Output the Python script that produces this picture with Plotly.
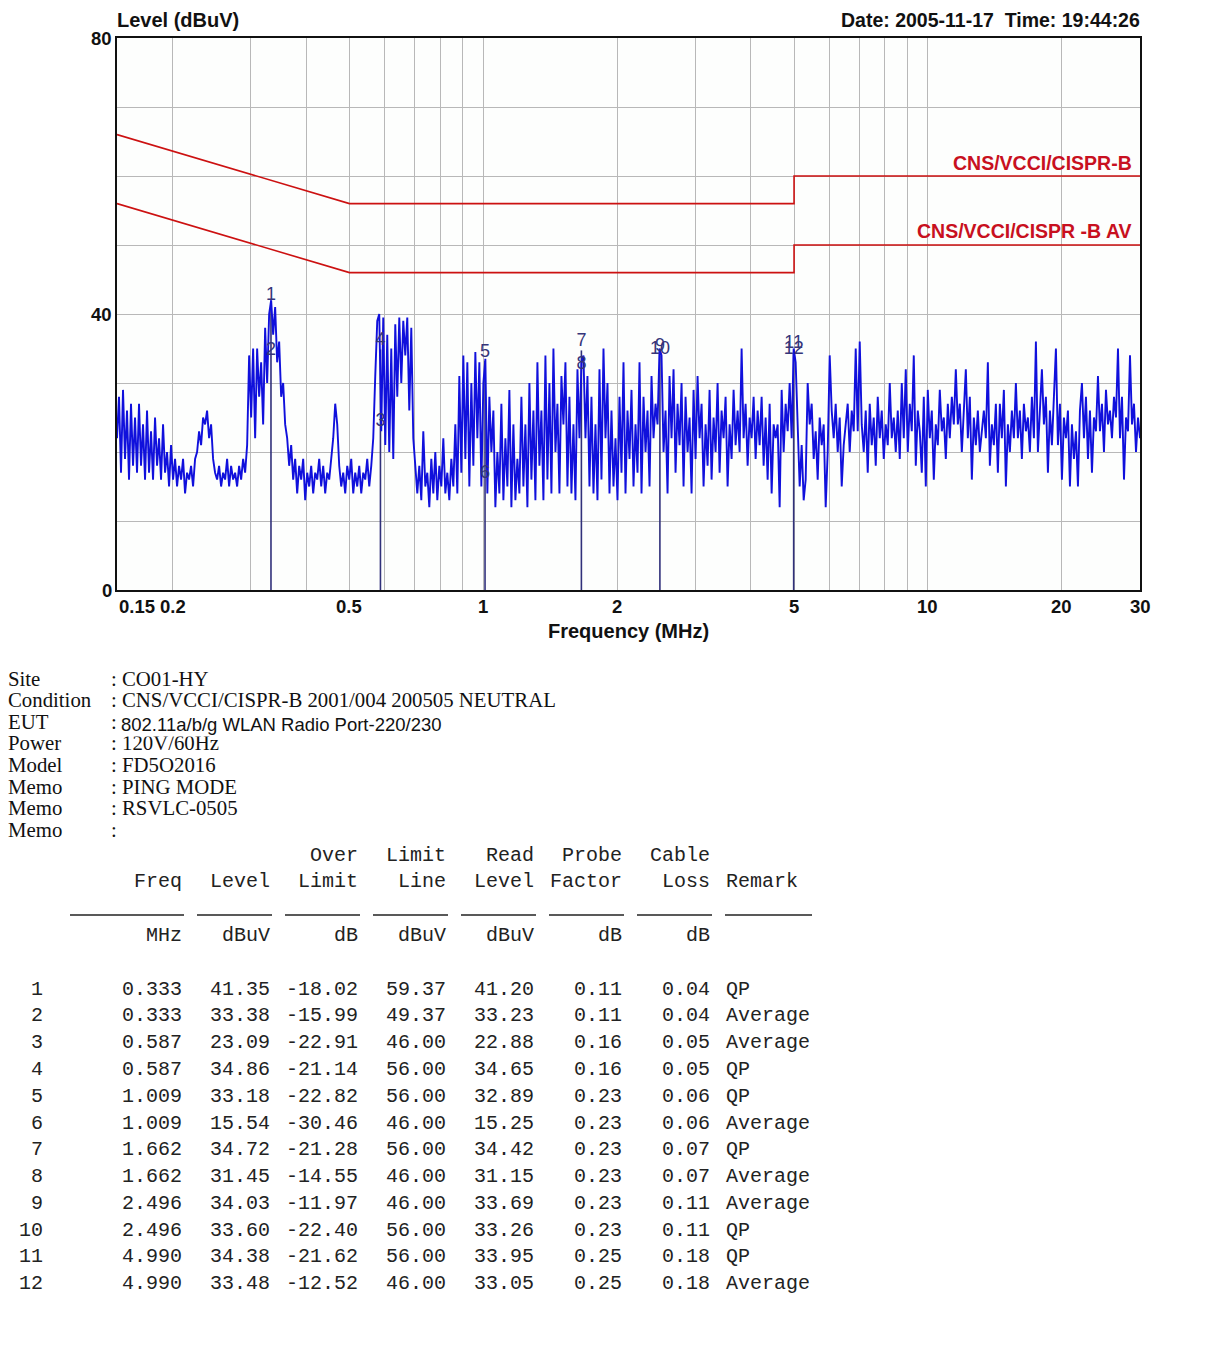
import numpy as np
import plotly.graph_objects as go

# page body has an 8px margin, so the figure is 8px smaller and everything is shifted by 8
OFF = 8
W, H = 1216 - OFF, 1353 - OFF
L, R, T, B = 117, 1140, 38, 590   # plot area in page pixels

# ---------------- data ----------------
freq_start, freq_stop = 0.15, 30.0
levels = [
    22, 28, 17, 29, 19, 26, 16, 27, 18, 25,
    17, 27, 18, 24, 16, 26, 17, 23, 16, 25,
    18, 22, 16, 24, 17, 20, 15, 21, 16, 19,
    15, 18, 16, 19, 14, 17, 16, 18, 15, 19,
    20, 23, 21, 25, 24, 26, 22, 24, 19, 17,
    16, 18, 15, 17, 16, 19, 15, 18, 16, 17,
    15, 18, 16, 19, 17, 21, 34, 25, 35, 22,
    35, 28, 33, 24, 38, 30, 40, 42, 37, 41,
    33, 36, 28, 30, 24, 22, 18, 21, 16, 19,
    14, 18, 16, 19, 13, 17, 15, 18, 14, 17,
    16, 19, 15, 18, 14, 17, 16, 19, 22, 27,
    24, 18, 15, 17, 14, 18, 16, 19, 14, 17,
    15, 18, 14, 17, 16, 19, 15, 18, 22, 31,
    39, 40, 23, 39.5, 21, 37, 20, 35, 19, 38.5,
    28, 39.5, 30, 39, 34, 39.5, 26, 38, 22, 18,
    14, 18, 13, 23, 15, 17, 12, 19, 14, 20,
    13, 18, 15, 22, 14, 17, 13, 19, 15, 24,
    14, 31, 17, 34, 19, 33, 15, 30, 18, 34.5,
    22, 33, 15, 30, 33.5, 14, 28, 20, 26, 12,
    20, 14, 27, 13, 22, 15, 29, 12, 24, 13,
    19, 14, 28, 15, 24, 12, 30, 16, 26, 13,
    33, 18, 26, 13, 34, 16, 30, 14, 35, 20,
    27, 14, 31, 24, 33, 15, 28, 14, 24, 13,
    32, 22, 33, 34, 22, 31, 15, 28, 14, 24,
    13, 32, 16, 35, 22, 30, 14, 26, 15, 22,
    13, 28, 17, 33, 14, 26, 19, 29, 15, 24,
    17, 33, 14, 28, 20, 26, 15, 31, 22, 27,
    24, 35, 34, 20, 26, 14, 31, 22, 32, 17,
    27, 21, 30, 15, 28, 20, 25, 14, 29, 19,
    31, 22, 27, 15, 24, 18, 29, 16, 25, 20,
    30, 17, 26, 22, 28, 15, 24, 19, 29, 21,
    26, 20, 35, 22, 27, 18, 25, 22, 28, 19,
    26, 21, 28, 18, 25, 16, 27, 14, 24, 22,
    24, 12, 29, 20, 27, 23, 30, 22, 35, 33,
    24, 15, 21, 13, 16, 30, 24, 27, 19, 23,
    16, 25, 21, 24, 12, 20, 34, 26, 22, 27,
    20, 25, 15, 21, 24, 27, 20, 26, 23, 35,
    23, 36, 24, 20, 26, 17, 27, 21, 25, 18,
    28, 22, 26, 19, 24, 21, 30, 22, 25, 20,
    26, 19, 30, 22, 32, 20, 27, 23, 34, 18,
    26, 23, 17, 28, 15, 29, 22, 26, 16, 24,
    21, 29, 23, 25, 19, 27, 22, 28, 24, 32,
    24, 27, 20, 26, 32, 22, 28, 16, 25, 21,
    26, 20, 23, 26, 22, 33, 18, 24, 21, 27,
    17, 27, 22, 29, 15, 24, 20, 26, 22, 30,
    22, 26, 19, 27, 23, 25, 20, 28, 22, 36,
    20, 26, 32, 24, 28, 17, 26, 21, 27, 35,
    21, 27, 16, 25, 22, 26, 15, 24, 19, 23,
    15, 26, 30, 22, 28, 19, 26, 17, 25, 23,
    31, 23, 27, 20, 29, 24, 26, 22, 28, 25,
    35, 22, 28, 16, 25, 23, 34, 24, 27, 20,
    25, 22,
]
freqs = np.geomspace(freq_start, freq_stop, len(levels))

qp_limit_freq = [0.15, 0.5, 5, 5, 30]
qp_limit_level = [66, 56, 56, 60, 60]
av_limit_freq = [0.15, 0.5, 5, 5, 30]
av_limit_level = [56, 46, 46, 50, 50]

mk_no = [1, 2, 3, 4, 5, 6, 7, 8, 9, 10, 11, 12]
mk_freq = [0.333, 0.333, 0.587, 0.587, 1.009, 1.009, 1.662, 1.662, 2.496, 2.496, 4.990, 4.990]
mk_level = [41.35, 33.38, 23.09, 34.86, 33.18, 15.54, 34.72, 31.45, 34.03, 33.60, 34.38, 33.48]
mk_over = [-18.02, -15.99, -22.91, -21.14, -22.82, -30.46, -21.28, -14.55, -11.97, -22.40, -21.62, -12.52]
mk_limit = [59.37, 49.37, 46.00, 56.00, 56.00, 46.00, 56.00, 46.00, 46.00, 56.00, 56.00, 46.00]
mk_read = [41.20, 33.23, 22.88, 34.65, 32.89, 15.25, 34.42, 31.15, 33.69, 33.26, 33.95, 33.05]
mk_probe = [0.11, 0.11, 0.16, 0.16, 0.23, 0.23, 0.23, 0.23, 0.23, 0.23, 0.25, 0.25]
mk_cable = [0.04, 0.04, 0.05, 0.05, 0.06, 0.06, 0.07, 0.07, 0.11, 0.11, 0.18, 0.18]
mk_remark = ["QP", "Average", "Average", "QP", "QP", "Average", "QP", "Average",
             "Average", "QP", "QP", "Average"]

x_tick_vals = [0.15, 0.2, 0.5, 1, 2, 5, 10, 20, 30]
x_tick_text = ["0.15", "0.2", "0.5", "1", "2", "5", "10", "20", "30"]
x_grid_vals = [0.2, 0.3, 0.4, 0.5, 0.6, 0.7, 0.8, 0.9, 1, 2, 3, 4, 5, 6, 7, 8, 9, 10, 20]
y_tick_vals = [0, 40, 80]

info_labels = ["Site", "Condition", "EUT", "Power", "Model", "Memo", "Memo", "Memo"]
info_values = [": CO01-HY", ": CNS/VCCI/CISPR-B 2001/004 200505 NEUTRAL", ":",
               ": 120V/60Hz", ": FD5O2016", ": PING MODE", ": RSVLC-0505", ":"]
eut_text = "802.11a/b/g WLAN Radio Port-220/230"

# ---------------- helpers (page pixels -> paper fraction) ----------------
def px(x):
    return (x - L) / (R - L)

def py(y):
    return (B - y) / (B - T)

fig = go.Figure()

# marker drop lines (from 0 up to the highest reading at each marker frequency)
drop_x, drop_y = [], []
for f in sorted(set(mk_freq)):
    top = max(lv for ff, lv in zip(mk_freq, mk_level) if ff == f)
    drop_x += [f, f, None]
    drop_y += [0, top, None]
fig.add_trace(go.Scatter(x=drop_x, y=drop_y, mode="lines",
                         line=dict(color="#30307a", width=1.6),
                         hoverinfo="skip", showlegend=False))

# spectrum trace
fig.add_trace(go.Scatter(x=freqs, y=levels, mode="lines",
                         line=dict(color="#1010dc", width=1.9),
                         showlegend=False))

# limit lines
fig.add_trace(go.Scatter(x=qp_limit_freq, y=qp_limit_level, mode="lines",
                         line=dict(color="#cc1111", width=1.6), showlegend=False))
fig.add_trace(go.Scatter(x=av_limit_freq, y=av_limit_level, mode="lines",
                         line=dict(color="#cc1111", width=1.6), showlegend=False))

# marker labels
fig.add_trace(go.Scatter(x=mk_freq, y=mk_level, mode="text",
                         text=[str(n) for n in mk_no], textposition="top center",
                         textfont=dict(family="Liberation Sans", size=18, color="#35357a"),
                         showlegend=False))

ann = []
BOLD = "Liberation Sans"

# axis tick labels
for v, t in zip(x_tick_vals, x_tick_text):
    ann.append(dict(x=np.log10(v), y=0, xref="x", yref="paper", text="<b>%s</b>" % t,
                    showarrow=False, xanchor="left" if v == 0.15 else "center",
                    yanchor="top", yshift=-4,
                    font=dict(family=BOLD, size=18.5, color="#111")))
for v in y_tick_vals:
    ann.append(dict(x=0, y=v, xref="paper", yref="y", text="<b>%d</b>" % v,
                    showarrow=False, xanchor="right", yanchor="middle", xshift=-3,
                    font=dict(family=BOLD, size=18.5, color="#111")))

def text_at(x, y, text, xanchor, size, color="#111", family=BOLD):
    ann.append(dict(x=px(x), y=py(y), xref="paper", yref="paper", xanchor=xanchor,
                    yanchor="middle", text=text, showarrow=False,
                    font=dict(family=family, size=size, color=color)))

text_at(628, 631, "<b>Frequency (MHz)</b>", "center", 20)
text_at(115, 20, "<b>Level (dBuV)</b>", "left", 20)
text_at(1142, 20, "<b>Date: 2005-11-17  Time: 19:44:26</b>", "right", 19.5)
text_at(1134, 163, "<b>CNS/VCCI/CISPR-B</b>", "right", 19.5, "#c81020")
text_at(1134, 231, "<b>CNS/VCCI/CISPR -B AV</b>", "right", 19.5, "#c81020")

# info block
SERIF = "Liberation Serif"
for k, (lab, val) in enumerate(zip(info_labels, info_values)):
    yy = 678 + 21.6 * k
    text_at(6, yy, lab, "left", 20.8, "#111", SERIF)
    text_at(109, yy, val, "left", 20.8, "#111", SERIF)
ann.append(dict(x=px(120), y=py(723.5), xref="paper", yref="paper", xanchor="left",
                yanchor="middle", text=eut_text, showarrow=False, align="left",
                width=480, height=24, bgcolor="white", borderpad=0,
                font=dict(family="Liberation Sans", size=18.5, color="#111")))

# table
MONO = "Liberation Mono"
col_right = [45, 184, 272, 360, 448, 536, 624, 712]
remark_left = 724

def cell(x, y, text, anchor="right"):
    text_at(x, y, text, anchor, 20, "#222", MONO)

hdr1 = [None, None, None, "Over", "Limit", "Read", "Probe", "Cable"]
hdr2 = [None, "Freq", "Level", "Limit", "Line", "Level", "Factor", "Loss"]
units = [None, "MHz", "dBuV", "dB", "dBuV", "dBuV", "dB", "dB"]
for c, t in enumerate(hdr1):
    if t:
        cell(col_right[c], 855, t)
for c, t in enumerate(hdr2):
    if t:
        cell(col_right[c], 881, t)
cell(remark_left, 881, "Remark", "left")
for c, t in enumerate(units):
    if t:
        cell(col_right[c], 935, t)

for k in range(len(mk_no)):
    yy = 989 + 26.8 * k
    vals = [str(mk_no[k]), "%.3f" % mk_freq[k], "%.2f" % mk_level[k], "%.2f" % mk_over[k],
            "%.2f" % mk_limit[k], "%.2f" % mk_read[k], "%.2f" % mk_probe[k], "%.2f" % mk_cable[k]]
    for c, t in enumerate(vals):
        cell(col_right[c], yy, t)
    cell(remark_left, yy, mk_remark[k], "left")

# underline segments
shapes = []
seg_left = [70, 197, 285, 373, 461, 549, 637, 725]
seg_right = [184, 272, 360, 448, 536, 624, 712, 812]
for a, b in zip(seg_left, seg_right):
    shapes.append(dict(type="line", xref="paper", yref="paper",
                       x0=px(a), x1=px(b), y0=py(915), y1=py(915),
                       line=dict(color="#222", width=1.5)))

fig.update_layout(
    width=W, height=H,
    margin=dict(l=L - OFF, r=W - (R - OFF), t=T - OFF, b=H - (B - OFF), pad=0),
    paper_bgcolor="white", plot_bgcolor="#fdfefd",
    annotations=ann, shapes=shapes, showlegend=False,
    xaxis=dict(type="log", range=[np.log10(freq_start), np.log10(freq_stop)],
               tickvals=x_grid_vals, showticklabels=False, ticks="",
               showgrid=True, gridcolor="#b8b8b8", gridwidth=1,
               showline=True, mirror=True, linecolor="#111", linewidth=2,
               zeroline=False),
    yaxis=dict(range=[0, 80], dtick=10, showticklabels=False, ticks="",
               showgrid=True, gridcolor="#b8b8b8", gridwidth=1,
               showline=True, mirror=True, linecolor="#111", linewidth=2,
               zeroline=False),
)

fig.write_html("out.html")
